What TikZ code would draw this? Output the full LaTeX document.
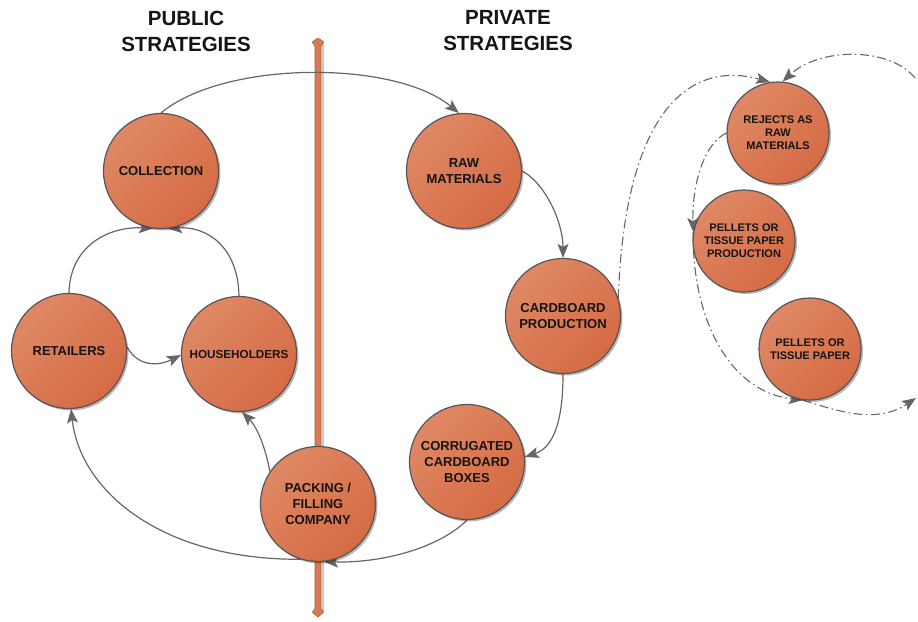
\documentclass[tikz,border=0pt]{standalone}
\usepackage{fontspec}
\setmainfont{Liberation Sans}
\usetikzlibrary{arrows.meta,shadows}
\definecolor{orlight}{HTML}{DF8865}
\definecolor{ordark}{HTML}{D56B44}
\definecolor{edgegray}{HTML}{555555}
\definecolor{linkgray}{HTML}{666666}
\definecolor{bartone}{HTML}{DC7852}
\definecolor{baredge}{HTML}{A5603F}
\definecolor{inktext}{HTML}{141414}
\pgfdeclarelayer{under}
\pgfsetlayers{under,main}
\begin{document}
\begin{tikzpicture}[x=1pt,y=-1pt,
  disc/.style={circle, draw=edgegray, line width=1.2pt,
    top color=orlight, bottom color=ordark, shading angle=45,
    drop shadow={shadow xshift=2pt, shadow yshift=-2pt, opacity=0.28, fill=black},
    inner sep=0pt, align=center, text=inktext},
  bigdisc/.style={disc, minimum size=115pt, font=\bfseries\fontsize{13}{16}\selectfont},
  smalldisc/.style={disc, minimum size=102pt, font=\bfseries\fontsize{11}{13}\selectfont},
  heading/.style={align=center, text=inktext, font=\bfseries\fontsize{20.5}{26}\selectfont},
  flow/.style={draw=linkgray, line width=1.2pt,
    -{Stealth[length=14pt,width=11pt,inset=3pt,fill=linkgray]}},
  loop/.style={flow, line width=1.1pt, dash pattern=on 9pt off 3.5pt on 1.5pt off 3.5pt}]

\useasboundingbox (0,0) rectangle (918,621);

% column headings
\node[heading] (pub) at (186,31) {PUBLIC\\STRATEGIES};
\node[heading] (priv) at (508,31) {PRIVATE\\STRATEGIES};

% circles
\node[bigdisc] (coll) at (161,171) {COLLECTION};
\node[bigdisc] (ret) at (69,351) {RETAILERS};
\node[bigdisc, font=\bfseries\fontsize{11.7}{14}\selectfont] (house) at (239,354) {HOUSEHOLDERS};
\node[bigdisc] (pack) at (318,504) {PACKING /\\FILLING\\COMPANY};
\node[bigdisc] (raw) at (464,171) {RAW\\MATERIALS};
\node[bigdisc] (card) at (563,316) {CARDBOARD\\PRODUCTION};
\node[bigdisc] (corr) at (467,462) {CORRUGATED\\CARDBOARD\\BOXES};
\node[smalldisc] (rej) at (778,133) {REJECTS AS\\RAW\\MATERIALS};
\node[smalldisc] (pprod) at (744,241) {PELLETS OR\\TISSUE PAPER\\PRODUCTION};
\node[smalldisc] (pel) at (810,349) {PELLETS OR\\TISSUE PAPER};

% free ends of the recycling loop at the right border
\coordinate (loopin) at (915,78);
\coordinate (loopout) at (916,398);

\begin{pgfonlayer}{under}
  % dividing bar between public and private
  \fill[black, opacity=0.22] (321.5,44) rectangle (323.5,611);
  \draw[fill=bartone, draw=baredge, line width=0.6pt, rounded corners=0.8pt]
    (318,38) -- (324,42) -- (321,46) -- (321,609) -- (324,612) -- (318,617)
    -- (312,612) -- (315,609) -- (315,46) -- (312,42) -- cycle;

  % public loop
  \draw[flow] (coll.90) .. controls (225,60) and (395,60) .. (raw.95);
  \draw[flow] (ret.90) .. controls (70,245) and (110,226) .. (coll.262);
  \draw[flow] (house.90) .. controls (238,245) and (205,226) .. (coll.277);
  \draw[flow] (ret.4) .. controls (140,370) and (163,364) .. (house.181);
  \draw[flow] (pack.146) .. controls (266,450) and (258,428) .. (house.273);
  \draw[flow] (pack.252) .. controls (160,560) and (80,490) .. (ret.272);

  % private chain
  \draw[flow] (raw.0) .. controls (545,183) and (563,222) .. (card.90);
  \draw[flow] (card.270) .. controls (563,425) and (552,448) .. (corr.5);
  \draw[flow] (corr.270) .. controls (440,547) and (385,563) .. (pack.276);

  % recycling of rejects
  \draw[loop] (card.18) .. controls (625,110) and (690,60) .. (rej.99);
  \draw[loop] (loopin) .. controls (890,47) and (820,47) .. (rej.85);
  \draw[loop] (rej.180) .. controls (705,143) and (692,182) .. (pprod.170);
  \draw[loop] (pprod.170) .. controls (692,320) and (730,392) .. (pel.262);
  \draw[loop] (pel.262) .. controls (840,412) and (877,424) .. (loopout);
\end{pgfonlayer}
\end{tikzpicture}
\end{document}
